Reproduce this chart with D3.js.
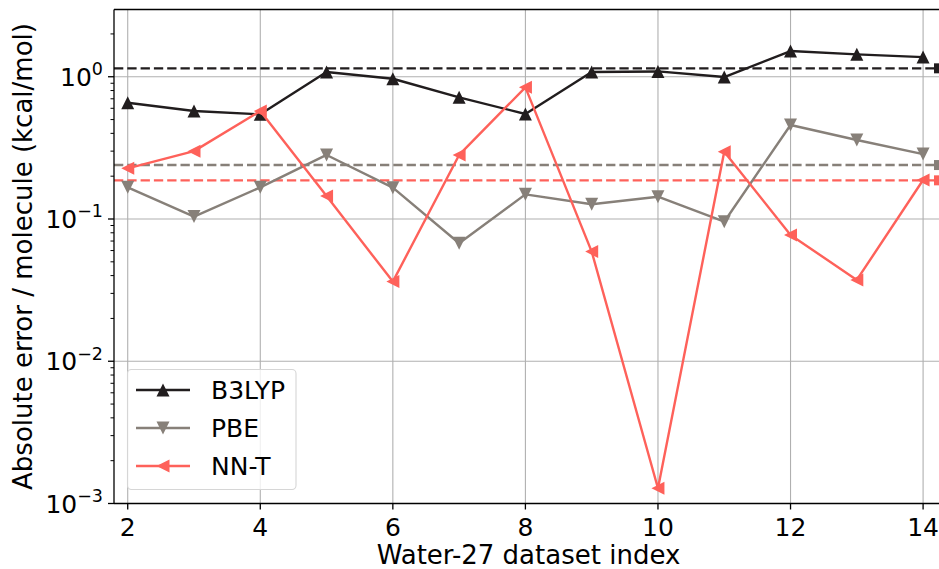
<!DOCTYPE html>
<html>
<head>
<meta charset="utf-8">
<script src="https://cdn.jsdelivr.net/npm/d3@7"></script>
<style>
  body { margin: 0; background: #fff; }
  svg { display: block; font-family: "DejaVu Sans", sans-serif; }
</style>
</head>
<body>
<svg id="chart" width="939" height="569"></svg>
<script>
// 数据
const indices = [2, 3, 4, 5, 6, 7, 8, 9, 10, 11, 12, 13, 14];
const b3lyp = [0.657, 0.574, 0.544, 1.08, 0.968, 0.717, 0.547, 1.08, 1.09, 0.995, 1.516, 1.437, 1.375];
const pbe = [0.167, 0.104, 0.167, 0.282, 0.166, 0.0675, 0.149, 0.127, 0.1435, 0.0957, 0.458, 0.359, 0.286];
const nnt = [0.227, 0.30, 0.574, 0.145, 0.0363, 0.282, 0.842, 0.059, 0.00128, 0.297, 0.0772, 0.0373, 0.188];
// 每个方法的平均误差（虚线）
const meanLabels = ["B3LYP", "PBE", "NN-T"];
const meanValues = [1.146, 0.2395, 0.187];
const xTicks = [2, 4, 6, 8, 10, 12, 14];
const yExponents = [0, -1, -2, -3];

const colors = { "B3LYP": "#211d1e", "PBE": "#878079", "NN-T": "#fe615a" };

const svg = d3.select("#chart");
const plotL = 114, plotR = 939, plotT = 9.5, plotB = 503.5;

const x = d3.scaleLinear().domain([1.793, 14.24]).range([plotL, plotR]);
const y = d3.scaleLog().domain([1e-3, 2.97]).range([plotB, plotT]);

// 网格线
svg.append("g").selectAll("line").data(xTicks).join("line")
	.attr("x1", d => x(d)).attr("x2", d => x(d))
	.attr("y1", plotT).attr("y2", plotB)
	.attr("stroke", "#b0b0b0").attr("stroke-width", 1.1);
svg.append("g").selectAll("line").data(yExponents).join("line")
	.attr("x1", plotL).attr("x2", plotR)
	.attr("y1", d => y(Math.pow(10, d))).attr("y2", d => y(Math.pow(10, d)))
	.attr("stroke", "#b0b0b0").attr("stroke-width", 1.1);

// 三角形符号
function triangle(dir, s) {
	const h = s / 2;
	if (dir == "up") return `M0,${-h}L${h},${h}L${-h},${h}Z`;
	if (dir == "down") return `M0,${h}L${h},${-h}L${-h},${-h}Z`;
	return `M${-h},0L${h},${-h}L${h},${h}Z`; // left
}

const series = [
	{ name: "B3LYP", values: b3lyp, marker: "up" },
	{ name: "PBE", values: pbe, marker: "down" },
	{ name: "NN-T", values: nnt, marker: "left" }
];

// 平均值虚线
meanValues.forEach((m, i) => {
	const c = colors[meanLabels[i]];
	svg.append("line")
		.attr("x1", plotL).attr("x2", plotR)
		.attr("y1", y(m)).attr("y2", y(m))
		.attr("stroke", c).attr("stroke-width", 2.4)
		.attr("stroke-dasharray", "9.3,4");
	svg.append("rect")
		.attr("x", plotR - 5).attr("y", y(m) - 5)
		.attr("width", 10).attr("height", 10)
		.attr("fill", c);
});

const line = d3.line().x((d, i) => x(indices[i])).y(d => y(d));

series.forEach(s => {
	const c = colors[s.name];
	svg.append("path")
		.attr("d", line(s.values))
		.attr("fill", "none").attr("stroke", c)
		.attr("stroke-width", 2.4).attr("stroke-linejoin", "round");
	svg.append("g").selectAll("path").data(s.values).join("path")
		.attr("transform", (d, i) => `translate(${x(indices[i])},${y(d)})`)
		.attr("d", triangle(s.marker, 13))
		.attr("fill", c);
});

// 坐标轴
svg.append("line").attr("x1", plotL).attr("x2", plotL).attr("y1", plotT).attr("y2", plotB)
	.attr("stroke", "#000").attr("stroke-width", 1.3);
svg.append("line").attr("x1", plotL).attr("x2", plotR).attr("y1", plotB).attr("y2", plotB)
	.attr("stroke", "#000").attr("stroke-width", 1.3);
svg.append("line").attr("x1", plotL).attr("x2", plotR).attr("y1", plotT).attr("y2", plotT)
	.attr("stroke", "#000").attr("stroke-width", 1.3);

// x 刻度
const xt = svg.append("g").selectAll("g").data(xTicks).join("g")
	.attr("transform", d => `translate(${x(d)},${plotB})`);
xt.append("line").attr("y2", 6).attr("stroke", "#000").attr("stroke-width", 1.3);
xt.append("text").attr("y", 32).attr("text-anchor", "middle")
	.attr("font-size", 25).text(d => d);

// y 主刻度和次刻度
const minor = [];
for (let e = -3; e < 1; e++)
	for (let k = 2; k <= 9; k++)
		if (k * Math.pow(10, e) <= 2.97) minor.push(k * Math.pow(10, e));
svg.append("g").selectAll("line").data(minor).join("line")
	.attr("x1", plotL - 3.5).attr("x2", plotL)
	.attr("y1", d => y(d)).attr("y2", d => y(d))
	.attr("stroke", "#000").attr("stroke-width", 1);
const yt = svg.append("g").selectAll("g").data(yExponents).join("g")
	.attr("transform", d => `translate(${plotL},${y(Math.pow(10, d))})`);
yt.append("line").attr("x1", -6).attr("stroke", "#000").attr("stroke-width", 1.3);
const ytext = yt.append("text").attr("x", -11).attr("y", 9)
	.attr("text-anchor", "end").attr("font-size", 25);
ytext.append("tspan").text("10");
ytext.append("tspan").attr("dy", -10.5).attr("font-size", 17.5)
	.text(d => d == 0 ? "0" : "\u2212" + (-d));

// 轴标题
svg.append("text").attr("x", (plotL + plotR) / 2 + 2).attr("y", 564)
	.attr("text-anchor", "middle").attr("font-size", 26)
	.text("Water-27 dataset index");
svg.append("text").attr("transform", `translate(32,${(plotT + plotB) / 2}) rotate(-90)`)
	.attr("text-anchor", "middle").attr("font-size", 26)
	.text("Absolute error / molecule (kcal/mol)");

// 图例
const lg = svg.append("g");
lg.append("rect").attr("x", 127.5).attr("y", 369.5).attr("width", 168.5).attr("height", 120)
	.attr("rx", 4).attr("fill", "#fff").attr("fill-opacity", 0.8)
	.attr("stroke", "#d6d6d6").attr("stroke-width", 1.1);
series.forEach((s, i) => {
	const c = colors[s.name];
	const ly = 390 + i * 38;
	lg.append("line").attr("x1", 136).attr("x2", 190).attr("y1", ly).attr("y2", ly)
		.attr("stroke", c).attr("stroke-width", 2.4);
	lg.append("path").attr("transform", `translate(163,${ly})`)
		.attr("d", triangle(s.marker, 13)).attr("fill", c);
	lg.append("text").attr("x", 211).attr("y", ly + 9)
		.attr("font-size", 25).text(s.name);
});
</script>
</body>
</html>
